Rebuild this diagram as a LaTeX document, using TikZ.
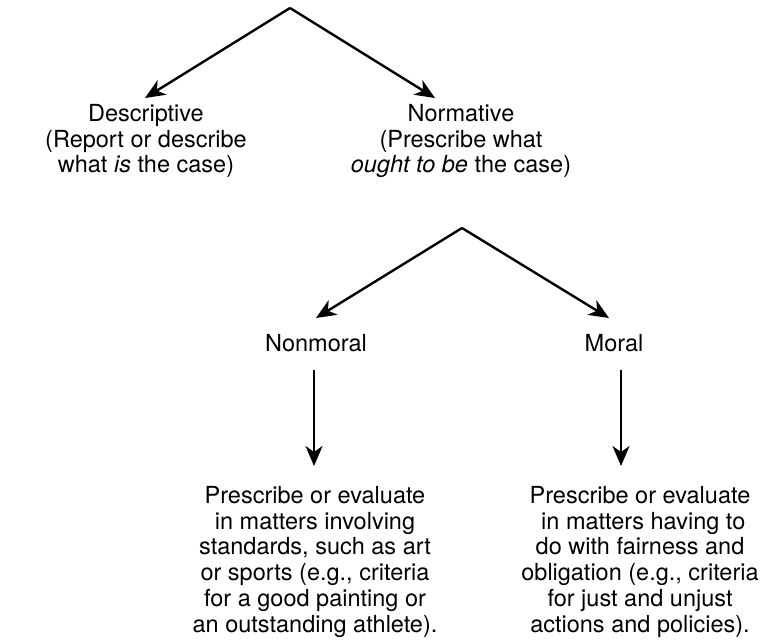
\documentclass[tikz,border=0pt]{standalone}
\usepackage{fontspec}
\setmainfont{TeX Gyre Heros}
\usetikzlibrary{arrows.meta}
\tikzstyle{branch} = [-{Stealth[length=20pt,width=17pt,inset=6pt]}, line width=2.4pt]
\tikzstyle{txt} = [align=center, inner sep=0pt, anchor=north, font=\fontsize{23.5}{25.8}\selectfont]

\begin{document}
\begin{tikzpicture}[x=1pt,y=-1pt]
                \useasboundingbox (0,0) rectangle (767,643);
                \coordinate (top) at (290,8);
                \node[txt] (desc) at (146,104) {Descriptive\\(Report or describe\\what \textit{is} the case)};
                \node[txt] (norm) at (461,104) {Normative\\(Prescribe what\\\textit{ought to be} the case)};
                \coordinate (mid) at (462,228);
                \node[txt] (nonmoral) at (316,334) {Nonmoral};
                \node[txt] (moral) at (614,334) {Moral};
                \node[txt] (nmtext) at (315,486) {Prescribe or evaluate\\in matters involving\\standards, such as art\\or sports (e.g., criteria\\for a good painting or\\an outstanding athlete).};
                \node[txt] (mtext) at (640,486) {Prescribe or evaluate\\\ in matters having to\\do with fairness and\\obligation (e.g., criteria\\for just and unjust\\actions and policies).};
                \draw[branch] (top) -- ([xshift=-1pt,yshift=6pt]desc.north);
                \draw[branch] (top) -- ([xshift=-26pt,yshift=6pt]norm.north);
                \draw[branch] (mid) -- ([yshift=16pt]nonmoral.north);
                \draw[branch] (mid) -- ([xshift=-5pt,yshift=16pt]moral.north);
                \draw[branch] ([xshift=-2pt,yshift=-18pt]nonmoral.south) -- ([xshift=-1pt,yshift=20pt]nmtext.north);
                \draw[branch] ([xshift=7pt,yshift=-18pt]moral.south) -- ([xshift=7pt,yshift=20pt]moral.south |- nmtext.north);
            \end{tikzpicture}
\end{document}
